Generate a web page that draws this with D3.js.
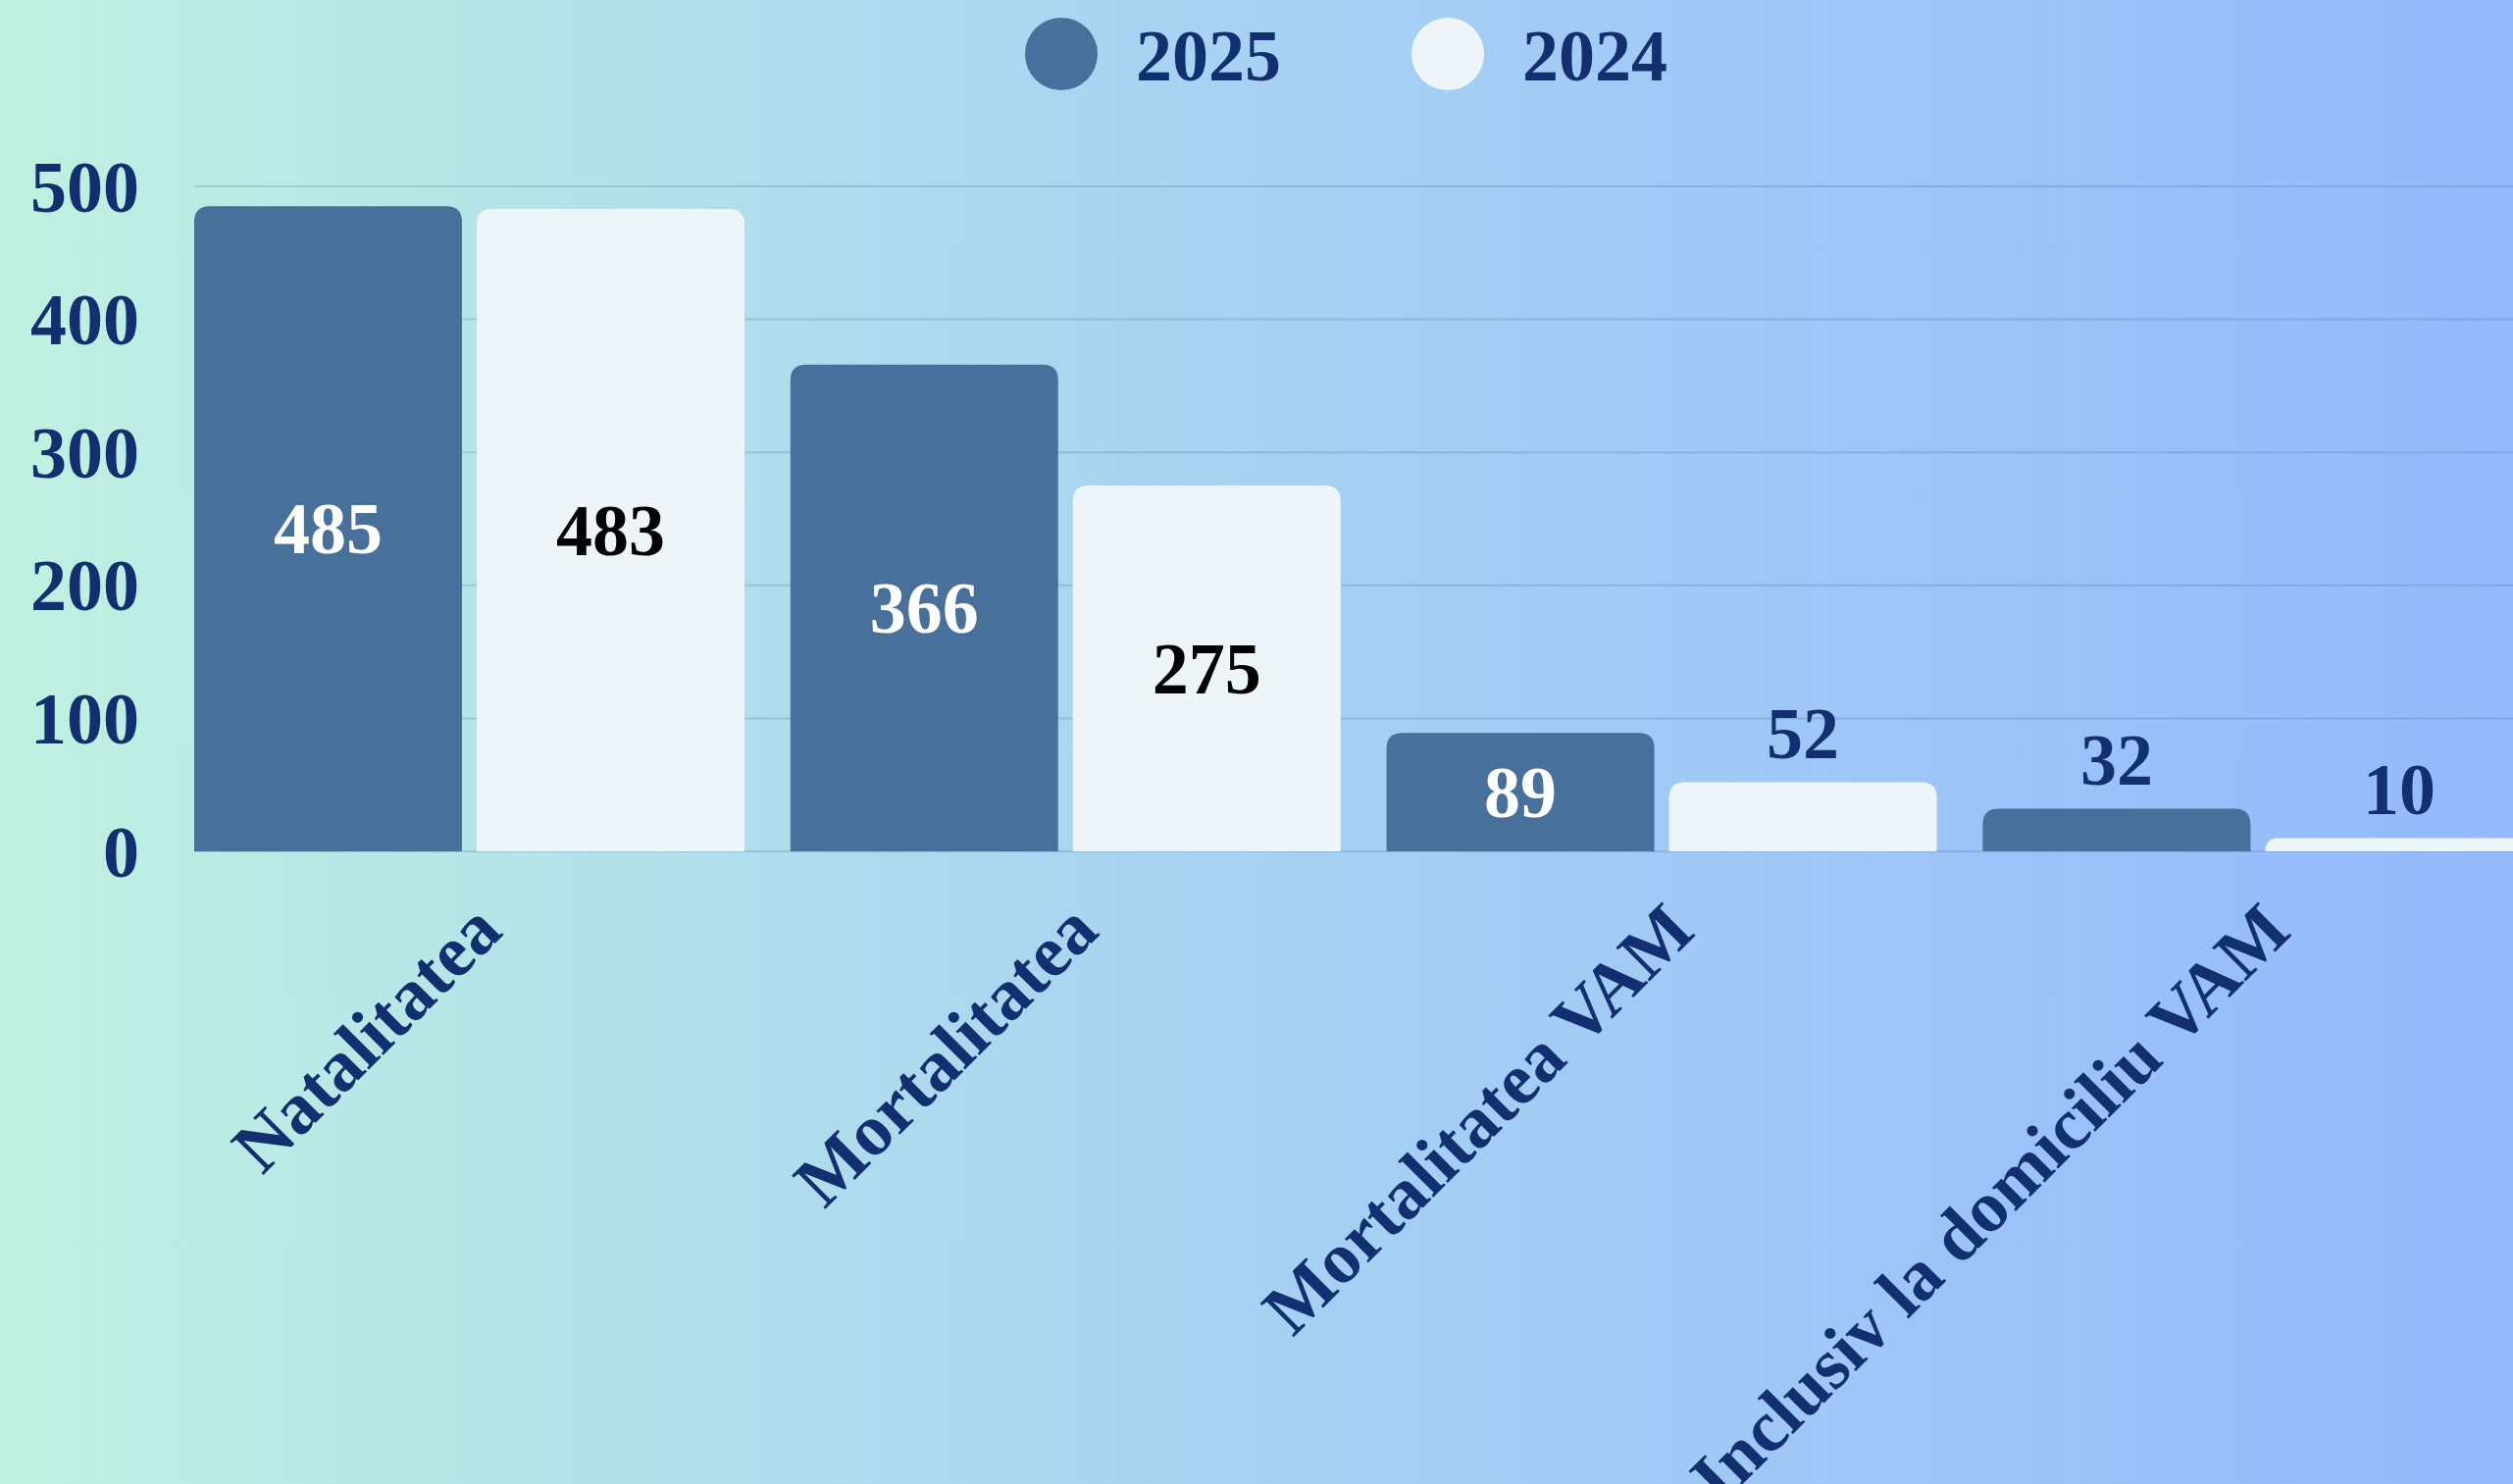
<!DOCTYPE html>
<html>
<head>
<meta charset="utf-8">
<script src="https://cdn.jsdelivr.net/npm/d3@7"></script>
<style>
  html, body { margin: 0; padding: 0; overflow: hidden; }
  svg { display: block; }
</style>
</head>
<body>
<svg id="chart" width="2562" height="1513"></svg>
<script>
const categories = ["Natalitatea", "Mortalitatea", "Mortalitatea VAM", "Inclusiv la domiciliu VAM"];
const seriesNames = ["2025", "2024"];
const values2025 = [485, 366, 89, 32];
const values2024 = [483, 275, 52, 10];
const yTicks = [0, 100, 200, 300, 400, 500];

const seriesValues = { "2025": values2025, "2024": values2024 };
const seriesColors = { "2025": "#47709b", "2024": "#edf5f8" };
const insideLabelColors = { "2025": "#ffffff", "2024": "#000000" };
const navy = "#12306f";
const FONT = "'Liberation Serif', 'Times New Roman', serif";

const W = 2562, H = 1513;
const svg = d3.select("#chart");

// background gradient
const defs = svg.append("defs");
const grad = defs.append("linearGradient").attr("id", "bg").attr("x1", "0%").attr("x2", "100%").attr("y1", "0%").attr("y2", "0%");
grad.append("stop").attr("offset", "0%").attr("stop-color", "#bff1e0");
grad.append("stop").attr("offset", "45%").attr("stop-color", "#a9d4f1");
grad.append("stop").attr("offset", "100%").attr("stop-color", "#94b9fc");
svg.append("rect").attr("width", W).attr("height", H).attr("fill", "url(#bg)");

const plotLeft = 198;
const step = 607.8;
const x0 = d3.scaleBand().domain(categories).range([plotLeft - 23.4, plotLeft - 23.4 + step * categories.length]).paddingInner(0).paddingOuter(0);
const x1 = d3.scaleBand().domain(seriesNames).range([23.4, step - 23.4]).paddingInner(15 / 288).paddingOuter(0);
const y = d3.scaleLinear().domain([0, 500]).range([868, 190]);

// gridlines
svg.append("g").selectAll("line").data(yTicks).join("line")
  .attr("x1", plotLeft).attr("x2", W)
  .attr("y1", d => y(d)).attr("y2", d => y(d))
  .attr("stroke", "rgba(40,80,120,0.18)").attr("stroke-width", 2);

// y axis
const yAxis = svg.append("g").attr("transform", `translate(${plotLeft},0)`)
  .call(d3.axisLeft(y).tickValues(yTicks).tickSize(0).tickPadding(56).tickFormat(d3.format("d")));
yAxis.select(".domain").remove();
yAxis.selectAll("text").attr("font-family", FONT).attr("font-weight", "bold").attr("font-size", 74).attr("fill", navy).attr("dy", "0.34em");

// bars
function topRounded(x, yTop, w, h, r) {
  r = Math.min(r, h, w / 2);
  const yb = yTop + h;
  return `M${x},${yb} L${x},${yTop + r} Q${x},${yTop} ${x + r},${yTop} L${x + w - r},${yTop} Q${x + w},${yTop} ${x + w},${yTop + r} L${x + w},${yb} Z`;
}

const rows = [];
categories.forEach((c, i) => seriesNames.forEach(s => rows.push({ cat: c, s, v: seriesValues[s][i] })));

const barG = svg.append("g");
barG.selectAll("path").data(rows).join("path")
  .attr("d", d => {
    const bx = x0(d.cat) + x1(d.s);
    const yt = y(d.v);
    return topRounded(bx, yt, x1.bandwidth(), y(0) - yt, 16);
  })
  .attr("fill", d => seriesColors[d.s]);

// value labels
barG.selectAll("text").data(rows).join("text")
  .attr("x", d => x0(d.cat) + x1(d.s) + x1.bandwidth() / 2)
  .attr("y", d => {
    const h = y(0) - y(d.v);
    return h > 95 ? (y(d.v) + y(0)) / 2 : y(d.v) - 50;
  })
  .attr("dy", "0.34em")
  .attr("text-anchor", "middle")
  .attr("font-family", FONT).attr("font-weight", "bold").attr("font-size", 74)
  .attr("fill", d => (y(0) - y(d.v)) > 95 ? insideLabelColors[d.s] : navy)
  .text(d => d.v);

// x axis labels
const xAxis = svg.append("g").attr("transform", `translate(0,${y(0)})`)
  .call(d3.axisBottom(x0).tickSize(0));
xAxis.select(".domain").remove();
xAxis.selectAll("text")
  .attr("x", 0).attr("y", 0).attr("dy", 0)
  .attr("transform", "translate(36,84) rotate(-45)")
  .attr("text-anchor", "end")
  .attr("font-family", FONT).attr("font-weight", "bold").attr("font-size", 74).attr("fill", navy);

// legend
const legend = svg.append("g");
const legendItems = [{ s: "2025", cx: 1082, tx: 1158 }, { s: "2024", cx: 1476, tx: 1552 }];
legend.selectAll("circle").data(legendItems).join("circle")
  .attr("cx", d => d.cx).attr("cy", 55).attr("r", 37)
  .attr("fill", d => seriesColors[d.s]);
legend.selectAll("text").data(legendItems).join("text")
  .attr("x", d => d.tx).attr("y", 82)
  .attr("font-family", FONT).attr("font-weight", "bold").attr("font-size", 74).attr("fill", navy)
  .text(d => d.s);
</script>
</body>
</html>
